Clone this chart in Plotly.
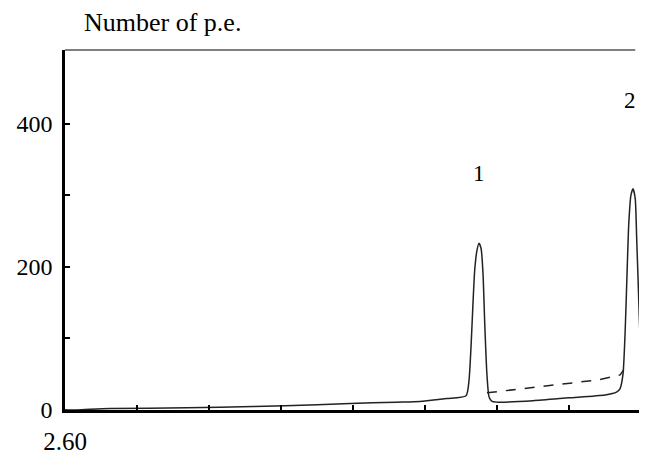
import plotly.graph_objects as go

# Solid spectrum (energy, number of p.e.)
solid_x = [2.600, 2.614, 2.635, 2.6625, 2.769, 2.815, 2.906, 2.996, 3.060, 3.093, 3.130, 3.157,
           3.161, 3.164, 3.1667, 3.169, 3.172, 3.175, 3.178, 3.1806, 3.183, 3.186, 3.189, 3.193,
           3.200, 3.250, 3.300, 3.350, 3.366, 3.371,
           3.375, 3.378, 3.3806, 3.383, 3.386, 3.389, 3.392, 3.394, 3.397, 3.400]
solid_y = [0.5, 0, 1, 2, 3, 4, 6, 9, 11, 12, 16, 20,
           40, 90, 150, 195, 222, 233, 225, 190, 120, 50, 18, 12,
           11, 13, 17, 21, 25, 30,
           50, 110, 190, 260, 300, 309, 295, 240, 150, 60]

# Dashed background line
dash_x = [3.186, 3.240, 3.290, 3.340, 3.371, 3.376]
dash_y = [24, 30, 36, 42, 49, 56]

y_ticks = [0, 100, 200, 300, 400]
y_ticklabels = ["0", "", "200", "", "400"]
x_ticks = [2.60, 2.70, 2.80, 2.90, 3.00, 3.10, 3.20, 3.30, 3.40]
x_ticklabels = ["2.60", "", "", "", "", "", "", "", ""]

peak_labels = ["1", "2"]
peak_label_x = [3.175, 3.385]
peak_label_y = [330, 433]

FONT = "Liberation Serif, Times New Roman, serif"

fig = go.Figure()
fig.add_trace(go.Scatter(x=solid_x, y=solid_y, mode="lines",
                         line=dict(color="#222222", width=1.5, shape="spline", smoothing=0.6),
                         hoverinfo="skip"))
fig.add_trace(go.Scatter(x=dash_x, y=dash_y, mode="lines",
                         line=dict(color="#222222", width=1.5, dash="10px,9px"), hoverinfo="skip"))

for t, xx, yy in zip(peak_labels, peak_label_x, peak_label_y):
    fig.add_annotation(x=xx, y=yy, text=t, showarrow=False,
                       font=dict(family=FONT, size=23, color="black"))

fig.add_annotation(xref="paper", yref="paper", x=0.029, y=1.0, yshift=28,
                   xanchor="left", yanchor="middle", text="Number of p.e.",
                   showarrow=False, font=dict(family=FONT, size=26, color="black"))

# top border line
fig.add_shape(type="line", xref="paper", yref="paper", x0=0, x1=0.99, y0=1, y1=1,
              line=dict(color="black", width=1))

# page body has an 8px margin, so the figure is sized to fit the 647x455 window
fig.update_layout(
    width=639, height=447,
    margin=dict(l=57, r=6, t=42, b=45),
    paper_bgcolor="white", plot_bgcolor="white",
    showlegend=False,
    xaxis=dict(range=[2.60, 3.40], tickvals=x_ticks, ticktext=x_ticklabels,
               ticks="inside", ticklen=5, tickwidth=2, tickcolor="black",
               showline=True, linecolor="black", linewidth=2.5,
               showgrid=False, zeroline=False, ticklabelstandoff=7, automargin=False,
               tickfont=dict(family=FONT, size=25, color="black")),
    yaxis=dict(range=[0, 503], tickvals=y_ticks, ticktext=y_ticklabels,
               ticks="inside", ticklen=5, tickwidth=2, tickcolor="black",
               showline=True, linecolor="black", linewidth=2.5,
               showgrid=False, zeroline=False, ticklabelstandoff=5, automargin=False,
               tickfont=dict(family=FONT, size=24, color="black")),
)

fig.write_html("out.html")
